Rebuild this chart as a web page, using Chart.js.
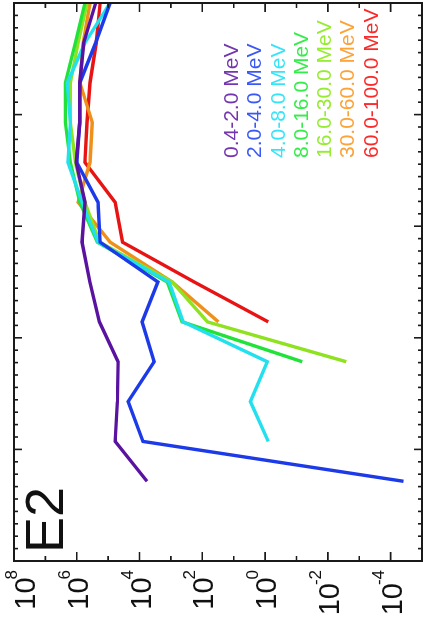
<!DOCTYPE html>
<html>
<head>
<meta charset="utf-8">
<script src="https://cdn.jsdelivr.net/npm/chart.js@4/dist/chart.umd.min.js"></script>
<style>
html,body{margin:0;padding:0;background:#fff;overflow:hidden;width:423px;height:617px;}
#wrap{position:absolute;left:0;top:0;width:617px;height:423px;transform-origin:0 0;transform:translate(0,617px) rotate(-90deg);}
canvas{display:block;}
</style>
</head>
<body>
<div id="wrap"><canvas id="c" width="617" height="423"></canvas></div>
<script>
// sample positions along the (hidden-label) horizontal axis
const positions = [2, 3, 4, 5, 6, 7, 8, 9, 10, 11, 12, 13, 14];
// flux values per energy channel (null = no data)
const ch_0p4_2   = [5.8e3, 6.0e4, 5.1e4, 4.8e4, 1.9e5, 3.8e5, 6.8e5, 5.5e5, 1.05e6, 8.0e5, 8.0e5, 6.0e5, 2.5e5];
const ch_2_4     = [3.9e-5, 7.8e3, 2.3e4, 3.4e3, 8.3e3, 2.6e3, 1.8e5, 2.1e5, 1.0e6, 8.0e5, 8.0e5, 2.5e5, 8.7e4];
const ch_4_8     = [null, 0.79, 2.95, 0.85, 4.1e2, 1.15e3, 2.1e5, 6.8e5, 1.9e6, 1.6e6, 2.0e6, 5.5e5, 8.7e4];
const ch_8_16    = [null, null, null, 6.5e-2, 4.4e2, 1.3e3, 2.2e5, 8.0e5, 1.6e6, 2.3e6, 2.3e6, 1.1e6, 5.5e5];
const ch_16_30   = [null, null, null, 2.6e-3, 69, 9.1e2, 1.9e5, 5.5e5, 1.1e6, 1.6e6, 1.6e6, 9.1e5, 4.7e5];
const ch_30_60   = [null, null, null, null, 31, 9.1e2, 8.7e4, 9.1e5, 3.8e5, 3.2e5, 7.9e5, 6.3e5, 3.8e5];
const ch_60_100  = [null, null, null, null, 0.79, 1.8e2, 3.5e4, 6.0e4, 5.5e5, 4.7e5, 3.8e5, 2.4e5, 1.8e5];

const seriesLabels = ["0.4-2.0 MeV", "2.0-4.0 MeV", "4.0-8.0 MeV", "8.0-16.0 MeV", "16.0-30.0 MeV", "30.0-60.0 MeV", "60.0-100.0 MeV"];
const seriesData = [ch_0p4_2, ch_2_4, ch_4_8, ch_8_16, ch_16_30, ch_30_60, ch_60_100];
const lineColors = ["#5a12a0", "#1c3ae8", "#22e0ee", "#22e23a", "#8ee21e", "#f0901c", "#e81414"];
const textColors = ["#7436b0", "#3a58f6", "#36e4f8", "#36ec4a", "#96ec30", "#fca236", "#fa2a2a"];

const logTickExps = [8, 7, 6, 5, 4, 3, 2, 1, 0, -1, -2, -3, -4, -5];
const logLabelExps = [8, 6, 4, 2, 0, -2, -4];
const panelLabel = "E2";

const datasets = seriesData.map((arr, k) => ({
  label: seriesLabels[k],
  data: positions.map((p, i) => ({x: p, y: arr[i]})).filter(d => d.y !== null),
  borderColor: lineColors[k],
  borderWidth: 3.4,
  pointRadius: 0,
  tension: 0,
  fill: false
}));

const framePlugin = {
  id: 'frame',
  afterDatasetsDraw(chart) {
    const ctx = chart.ctx, a = chart.chartArea;
    const xs = chart.scales.x, ys = chart.scales.y;
    ctx.save();
    ctx.strokeStyle = '#1a1a1a';
    ctx.lineWidth = 2;
    ctx.strokeRect(a.left, a.top, a.right - a.left, a.bottom - a.top);
    ctx.lineWidth = 1.6;
    ctx.beginPath();
    // log ticks on left/right
    logTickExps.forEach(e => {
      const v = ys.getPixelForValue(Math.pow(10, e));
      const len = (e % 2 === 0) ? 9 : 5;
      ctx.moveTo(a.left, v); ctx.lineTo(a.left + len, v);
      ctx.moveTo(a.right, v); ctx.lineTo(a.right - len, v);
    });
    // linear ticks top/bottom
    const major = 2.8, nMinor = 9;
    for (let k = 0; k <= 5; k++) {
      for (let m = 0; m < (k < 5 ? nMinor : 1); m++) {
        const val = k * major + m * major / nMinor;
        const u = xs.getPixelForValue(val);
        const len = m === 0 ? 8 : 4;
        ctx.moveTo(u, a.top); ctx.lineTo(u, a.top + len);
        ctx.moveTo(u, a.bottom); ctx.lineTo(u, a.bottom - len);
      }
    }
    ctx.stroke();

    // log axis labels
    ctx.fillStyle = '#111';
    logLabelExps.forEach(e => {
      let v = ys.getPixelForValue(Math.pow(10, e));
      if (e === 8) v += 10;
      const exp = String(e);
      ctx.font = '17px "Liberation Sans", Arial, sans-serif';
      const we = ctx.measureText(exp).width;
      const endU = 47;
      ctx.textAlign = 'left';
      ctx.textBaseline = 'alphabetic';
      ctx.fillText(exp, endU - we, v - 7);
      ctx.font = '29px "Liberation Sans", Arial, sans-serif';
      const wb = ctx.measureText('10').width;
      ctx.fillText('10', endU - we - wb + 2, v + 11);
    });

    // panel label
    ctx.font = '54px "Liberation Sans", Arial, sans-serif';
    ctx.textAlign = 'left';
    ctx.fillText(panelLabel, a.left + 8, 63);

    // legend text
    ctx.font = '21px "Liberation Sans", Arial, sans-serif';
    const centers = [231, 254, 278, 301, 324, 347, 371];
    seriesLabels.forEach((s, k) => {
      ctx.fillStyle = textColors[k];
      ctx.fillText(s, 459, centers[k] + 7);
    });
    ctx.restore();
  }
};

new Chart(document.getElementById('c'), {
  type: 'line',
  data: {datasets},
  options: {
    responsive: false,
    animation: false,
    layout: {padding: {left: 56, right: 3, top: 14, bottom: 1}},
    plugins: {legend: {display: false}, tooltip: {enabled: false}},
    scales: {
      x: {type: 'linear', min: 0, max: 14, display: false},
      y: {type: 'logarithmic', min: 1e-5, max: 1e8, display: false}
    }
  },
  plugins: [framePlugin]
});
</script>
</body>
</html>
